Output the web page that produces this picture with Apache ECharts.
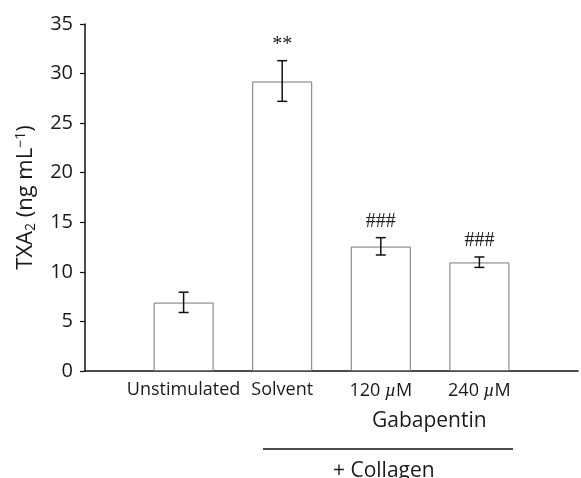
<!DOCTYPE html>
<html>
<head>
<meta charset="utf-8">
<script src="https://cdn.jsdelivr.net/npm/echarts@6/dist/echarts.min.js"></script>
<style>
  html, body { margin: 0; padding: 0; background: #fff; }
  #main { width: 581px; height: 478px; }
</style>
</head>
<body>
<div id="main"></div>
<script>
// 数据
var categories = ['', 'Unstimulated', 'Solvent', '120 {i|µ}M', '240 {i|µ}M', ''];
var means = [null, 6.9, 29.2, 12.55, 10.95, null];
var errLow = [null, 5.9, 27.2, 11.7, 10.45, null];
var errHigh = [null, 7.95, 31.3, 13.45, 11.5, null];
var marks = ['', '', '**', '###', '###', ''];
var yTicks = [0, 5, 10, 15, 20, 25, 30, 35];

var myChart = echarts.init(document.getElementById('main'));

var errData = [];
for (var i = 0; i < categories.length; i++) {
    if (means[i] != null) {
        errData.push([i, errLow[i], errHigh[i], marks[i]]);
    }
}

var option = {
    animation: false,
    backgroundColor: '#fff',
    grid: {
        left: 85,
        right: 0,
        top: 24,
        bottom: 107
    },
    xAxis: {
        type: 'category',
        data: categories,
        boundaryGap: false,
        axisLine: { lineStyle: { color: '#111', width: 1.5 } },
        axisTick: { show: false },
        axisLabel: {
            interval: 0,
            color: '#1a1a1a',
            fontFamily: 'Open Sans',
            fontSize: 18,
            margin: 10,
            rich: {
                i: { fontStyle: 'italic', fontFamily: 'Liberation Serif', fontSize: 19, color: '#1a1a1a' }
            }
        },
        splitLine: { show: false }
    },
    yAxis: {
        type: 'value',
        min: yTicks[0],
        max: yTicks[yTicks.length - 1],
        interval: 5,
        name: '{n|TXA}{s|2}{n| (ng mL}{p|\u22121}{n|)}',
        nameLocation: 'middle',
        nameRotate: 90,
        nameGap: 47,
        nameTextStyle: {
            rich: {
                n: { fontFamily: 'Open Sans', fontSize: 22, color: '#1a1a1a' },
                s: { fontFamily: 'Open Sans', fontSize: 14, color: '#1a1a1a', verticalAlign: 'bottom', padding: [10, 0, 0, 0] },
                p: { fontFamily: 'Open Sans', fontSize: 14, color: '#1a1a1a', verticalAlign: 'top', padding: [0, 0, 10, 0] }
            }
        },
        axisLine: { show: true, lineStyle: { color: '#111', width: 1.5 } },
        axisTick: { show: true, inside: false, length: 5, lineStyle: { color: '#111', width: 1.2 } },
        axisLabel: {
            color: '#1a1a1a',
            fontFamily: 'Open Sans',
            fontSize: 20,
            margin: 12
        },
        splitLine: { show: false }
    },
    series: [{
        type: 'bar',
        data: means,
        barWidth: 60,
        itemStyle: {
            color: '#fff',
            borderColor: '#777',
            borderWidth: 1
        },
        z: 2
    }, {
        type: 'custom',
        data: errData,
        z: 3,
        renderItem: function(params, api) {
            var x = api.coord([api.value(0), 0])[0];
            var lo = api.coord([api.value(0), api.value(1)])[1];
            var hi = api.coord([api.value(0), api.value(2)])[1];
            var cap = 5;
            var style = { stroke: '#111', lineWidth: 1.5 };
            var children = [
                { type: 'line', shape: { x1: x, y1: lo, x2: x, y2: hi }, style: style },
                { type: 'line', shape: { x1: x - cap, y1: lo, x2: x + cap, y2: lo }, style: style },
                { type: 'line', shape: { x1: x - cap, y1: hi, x2: x + cap, y2: hi }, style: style }
            ];
            var txt = errData[params.dataIndex][3];
            if (txt) {
                children.push({
                    type: 'text',
                    style: {
                        text: txt,
                        x: x,
                        y: hi - 6,
                        align: 'center',
                        verticalAlign: 'bottom',
                        fontFamily: 'Liberation Serif',
                        fontSize: 20,
                        fill: '#222'
                    }
                });
            }
            return { type: 'group', children: children };
        }
    }],
    graphic: [{
        type: 'text',
        left: 372,
        top: 411,
        style: {
            text: 'Gabapentin',
            fontFamily: 'Open Sans',
            fontSize: 21,
            fill: '#1a1a1a'
        }
    }, {
        type: 'line',
        shape: { x1: 263, y1: 449, x2: 513, y2: 449 },
        style: { stroke: '#111', lineWidth: 1.5 }
    }, {
        type: 'text',
        left: 333,
        top: 461,
        style: {
            text: '+ Collagen',
            fontFamily: 'Open Sans',
            fontSize: 21,
            fill: '#1a1a1a'
        }
    }]
};

myChart.setOption(option);
window.addEventListener('resize', function() {
    myChart.resize();
});
</script>
</body>
</html>
